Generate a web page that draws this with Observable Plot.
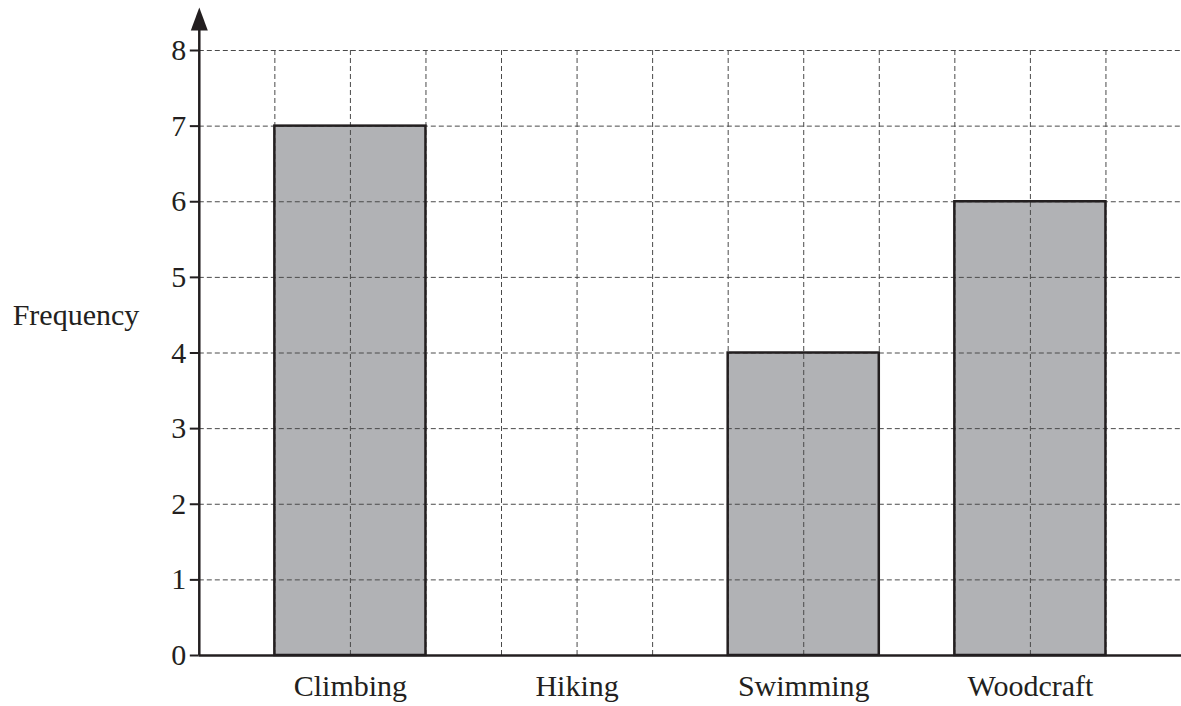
<!DOCTYPE html>
<html><head><meta charset="utf-8">
<script src="https://cdn.jsdelivr.net/npm/d3@7"></script>
<script src="https://cdn.jsdelivr.net/npm/@observablehq/plot@0.6"></script>
<style>body{margin:0;background:#fff;}</style>
</head><body><div id="chart"></div>
<script>
const categories = ["Climbing", "Hiking", "Swimming", "Woodcraft"];
const frequencies = [7, 0, 4, 6];
const yTicks = [0, 1, 2, 3, 4, 5, 6, 7, 8];
const yLabel = "Frequency";

// layout: each category occupies 3 grid cells (1 empty + 2 for the bar)
const gridCells = 13;
const data = categories.map((c, i) => ({
  category: c, frequency: frequencies[i],
  x1: i * 3 + 1, x2: i * 3 + 3, mid: i * 3 + 2
}));
const nameAt = new Map(data.map(d => [d.mid, d.category]));

const ink = "#231f20";
const gridStyle = {stroke: "#4a4a4a", strokeOpacity: 1, strokeWidth: 1, strokeDasharray: "5,3"};
const arrowTop = 8.264;
const arrowHead = {draw(ctx) { ctx.moveTo(0, -23); ctx.lineTo(8.5, 0); ctx.lineTo(-8.5, 0); ctx.closePath(); }};

const chart = Plot.plot({
  width: 1181, height: 706,
  marginLeft: 198.8, marginRight: 0, marginTop: 50, marginBottom: 51,
  style: {fontFamily: "'Liberation Serif', 'Times New Roman', serif", fontSize: "30px", color: ink, background: "#fff"},
  x: {type: "linear", domain: [0, gridCells], axis: null},
  y: {domain: [0, 8], axis: null},
  marks: [
    Plot.rect(data, {x1: "x1", x2: "x2", y1: 0, y2: "frequency", fill: "#b1b2b5"}),
    Plot.gridY(yTicks.slice(1), gridStyle),
    Plot.gridX(d3.range(1, gridCells), gridStyle),
    Plot.rect(data.filter(d => d.frequency > 0), {x1: "x1", x2: "x2", y1: 0, y2: "frequency", fill: "none", stroke: ink, strokeWidth: 2.5}),
    Plot.ruleY([0], {stroke: ink, strokeWidth: 2.5}),
    Plot.ruleX([0], {y1: 0, y2: arrowTop, stroke: ink, strokeWidth: 2.5}),
    Plot.dot([0], {x: 0, y: arrowTop, symbol: arrowHead, fill: ink, stroke: "none"}),
    Plot.axisY(yTicks, {tickSize: 9, tickPadding: 4, label: null, tickFormat: d3.format("d"), strokeWidth: 2, stroke: ink, fill: ink}),
    Plot.axisX(data.map(d => d.mid), {tickSize: 0, tickPadding: 19, label: null, tickFormat: v => nameAt.get(v), fill: ink}),
    Plot.text([yLabel], {frameAnchor: "left", y: 4.5, dx: -60, textAnchor: "end", fill: ink})
  ]
});
document.getElementById("chart").append(chart);
</script>
</body></html>
